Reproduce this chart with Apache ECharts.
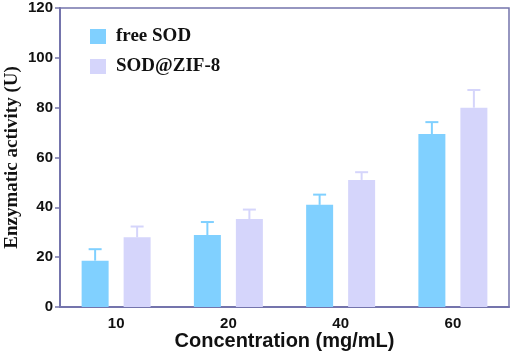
<!DOCTYPE html>
<html>
<head>
<meta charset="utf-8">
<script src="https://cdn.jsdelivr.net/npm/echarts@6/dist/echarts.min.js"></script>
<style>
html, body { margin: 0; padding: 0; background: #fff; }
#chart { width: 512px; height: 358px; }
</style>
</head>
<body>
<div id="chart"></div>
<script>
// data
var categories = ['10', '20', '40', '60'];
var freeVals = [18.6, 28.9, 41.0, 69.4];
var freeSd = [4.6, 5.2, 4.1, 4.8];
var zifVals = [28.0, 35.3, 51.0, 80.0];
var zifSd = [4.3, 3.8, 3.1, 7.1];
var yTicks = [0, 20, 40, 60, 80, 100, 120];

var freeColor = '#80d0ff';
var zifColor = '#d5d5fb';
var axisColor = '#7474ac';
var barW = 27;
var barGapPx = 15;

//误差棒，只画上半部分
function errorSeries(name, vals, sd, color, side) {
	var data = [];
	for (var i = 0; i < vals.length; i++) {
		data.push([i, vals[i], vals[i] + sd[i]]);
	}
	return {
		type : 'custom',
		name : name + ' err',
		data : data,
		z : 3,
		renderItem : function(params, api) {
			var off = side * (barW + barGapPx) / 2;
			var base = api.coord([api.value(0), api.value(1)]);
			var top = api.coord([api.value(0), api.value(2)]);
			var x = base[0] + off;
			var cap = 6.5;
			return {
				type : 'group',
				children : [{
					type : 'line',
					shape : { x1 : x, y1 : base[1], x2 : x, y2 : top[1] },
					style : { stroke : color, lineWidth : 2 }
				}, {
					type : 'line',
					shape : { x1 : x - cap, y1 : top[1], x2 : x + cap, y2 : top[1] },
					style : { stroke : color, lineWidth : 2 }
				}]
			};
		}
	};
}

var chart = echarts.init(document.getElementById('chart'));

var option = {
	animation : false,
	backgroundColor : '#fff',
	grid : {
		left : 60, right : 3, top : 8, bottom : 51,
		outerBoundsMode : 'none',
		containLabel : false,
		show : true, borderColor : axisColor, borderWidth : 1.5
	},
	legend : {
		orient : 'vertical',
		left : 85, top : 22,
		itemWidth : 16, itemHeight : 15,
		itemGap : 11,
		icon : 'rect',
		data : ['free SOD', 'SOD@ZIF-8'],
		textStyle : {
			fontFamily : '"Liberation Serif", "Times New Roman", serif',
			fontWeight : 'bold', fontSize : 19, color : '#111',
			padding : [0, 0, 0, 5]
		}
	},
	xAxis : {
		type : 'category',
		data : categories,
		name : 'Concentration (mg/mL)',
		nameLocation : 'middle',
		nameGap : 24,
		nameMoveOverlap : false,
		nameTextStyle : {
			fontFamily : '"Liberation Sans", Arial, sans-serif',
			fontWeight : 'bold', fontSize : 20, color : '#111'
		},
		axisLine : { lineStyle : { color : axisColor, width : 2 } },
		axisTick : { alignWithLabel : true, length : 5, lineStyle : { color : axisColor, width : 1.5 } },
		axisLabel : {
			margin : 9,
			fontFamily : '"Liberation Sans", Arial, sans-serif',
			fontWeight : 'bold', fontSize : 15, color : '#111'
		}
	},
	yAxis : {
		type : 'value',
		min : yTicks[0], max : yTicks[yTicks.length - 1], interval : 20,
		name : 'Enzymatic activity (U)',
		nameLocation : 'middle',
		nameGap : 38,
		nameMoveOverlap : false,
		nameTextStyle : {
			fontFamily : '"Liberation Serif", "Times New Roman", serif',
			fontWeight : 'bold', fontSize : 19, color : '#111'
		},
		axisLine : { show : true, lineStyle : { color : axisColor, width : 2 } },
		axisTick : { show : true, length : 5, lineStyle : { color : axisColor, width : 1.5 } },
		splitLine : { show : false },
		axisLabel : {
			margin : 7,
			fontFamily : '"Liberation Sans", Arial, sans-serif',
			fontWeight : 'bold', fontSize : 15, color : '#111'
		}
	},
	series : [{
		name : 'free SOD',
		type : 'bar',
		data : freeVals,
		barWidth : barW,
		barGap : (barGapPx / barW * 100) + '%',
		itemStyle : { color : freeColor }
	}, {
		name : 'SOD@ZIF-8',
		type : 'bar',
		data : zifVals,
		barWidth : barW,
		itemStyle : { color : zifColor }
	},
	errorSeries('free SOD', freeVals, freeSd, freeColor, -1),
	errorSeries('SOD@ZIF-8', zifVals, zifSd, zifColor, 1)]
};

chart.setOption(option);
</script>
</body>
</html>
